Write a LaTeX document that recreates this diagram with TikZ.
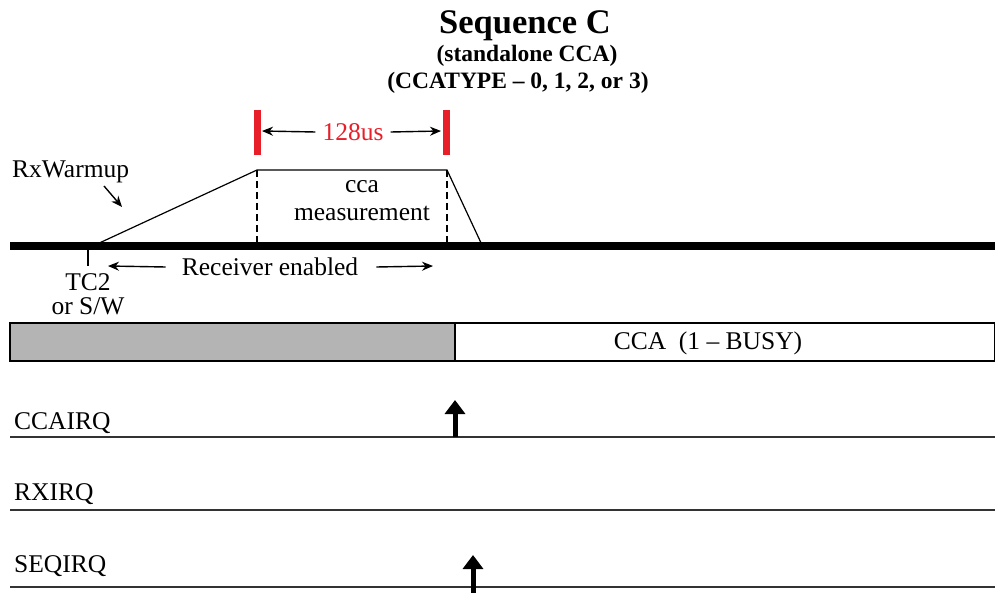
\documentclass[tikz,border=0pt]{standalone}
\usepackage{fontspec}
\setmainfont{Liberation Serif}
\usepackage{tikz}
\usetikzlibrary{arrows.meta,positioning}
\definecolor{MarkRed}{RGB}{232, 30, 40}
\definecolor{BusyGrey}{RGB}{180, 180, 180}

\begin{document}
\begin{tikzpicture}[
  x=1pt, y=-1pt,
  every node/.style={font=\fontsize{25.5}{28}\selectfont, inner sep=0pt},
  lbl/.style={anchor=west},
  sig/.style={line width=1.6pt, draw=black!80},
  irq/.style={line width=5pt, -{Triangle[width=20pt,length=14pt]}},
  thin arrow/.style={line width=1.4pt, -{Stealth[length=11pt,width=9pt]}},
  redbar/.style={line width=7pt, draw=MarkRed}
]
\useasboundingbox (0,0) rectangle (995,593);

% title
\node[font=\bfseries\fontsize{34.5}{37}\selectfont] (title) at (525,26) {Sequence C};
\node[font=\bfseries\fontsize{23.5}{25}\selectfont] (sub1) at (527,56) {(standalone CCA)};
\node[font=\bfseries\fontsize{23.5}{25}\selectfont] (sub2) at (518,83) {(CCATYPE -- 0, 1, 2, or 3)};

% receiver timeline
\coordinate (t0) at (95,245);
\coordinate (t1) at (257,170);
\coordinate (t2) at (447,170);
\coordinate (t3) at (482,245);
\draw[line width=8pt] (10,246) -- (995,246);
\draw[line width=1.2pt] (t0) -- (t1) -- (t2) -- (t3);
\draw[line width=1.2pt, dashed, dash pattern=on 7pt off 4pt] (t1) -- (257,243);
\draw[line width=1.2pt, dashed, dash pattern=on 7pt off 4pt] (t2) -- (447,243);
\node (cca) at (362,187) {cca};
\node (meas) at (362,213) {measurement};

% 128us window
\coordinate (b1) at (257,110);
\coordinate (b2) at (446,110);
\draw[redbar] (b1) -- (257,155);
\draw[redbar] (b2) -- (446,155);
\node[text=MarkRed] (win) at (353,132) {128us};
\draw[thin arrow] (win.west) ++(-7,0) -- (262,131);
\draw[thin arrow] (win.east) ++(7,0) -- (441,131);

% warmup and enable
\node[lbl] (warm) at (12,172) {RxWarmup};
\coordinate (wa) at (104,186);
\coordinate (wb) at (122,207);
\draw[thin arrow] (wa) -- (wb);
\draw[line width=1.4pt] (88,250) -- (88,266);
\node (tc2) at (88,282) {TC2};
\node (sw) at (88,306) {or S/W};
\node (recv) at (270,267) {Receiver enabled};
\draw[thin arrow] (recv.west) ++(-16,0) -- (108,266);
\draw[thin arrow] (recv.east) ++(18,0) -- (433,266);

% CCA status
\draw[line width=1.4pt, fill=BusyGrey] (10,323) rectangle (455,361);
\draw[line width=1.4pt, fill=white] (455,323) rectangle (995,361);
\node (busy) at (708,343) {CCA~~(1 -- BUSY)};

% interrupt lines
\node[lbl] (ccairq) at (14,423) {CCAIRQ};
\draw[sig] (10,437) -- (995,437);
\draw[irq] (455,437) -- (455,400);
\node[lbl] (rxirq) at (14,494) {RXIRQ};
\draw[sig] (10,510) -- (995,510);
\node[lbl] (seqirq) at (14,566) {SEQIRQ};
\draw[sig] (10,587) -- (995,587);
\draw[irq] (473,593) -- (473,555);
\end{tikzpicture}
\end{document}
